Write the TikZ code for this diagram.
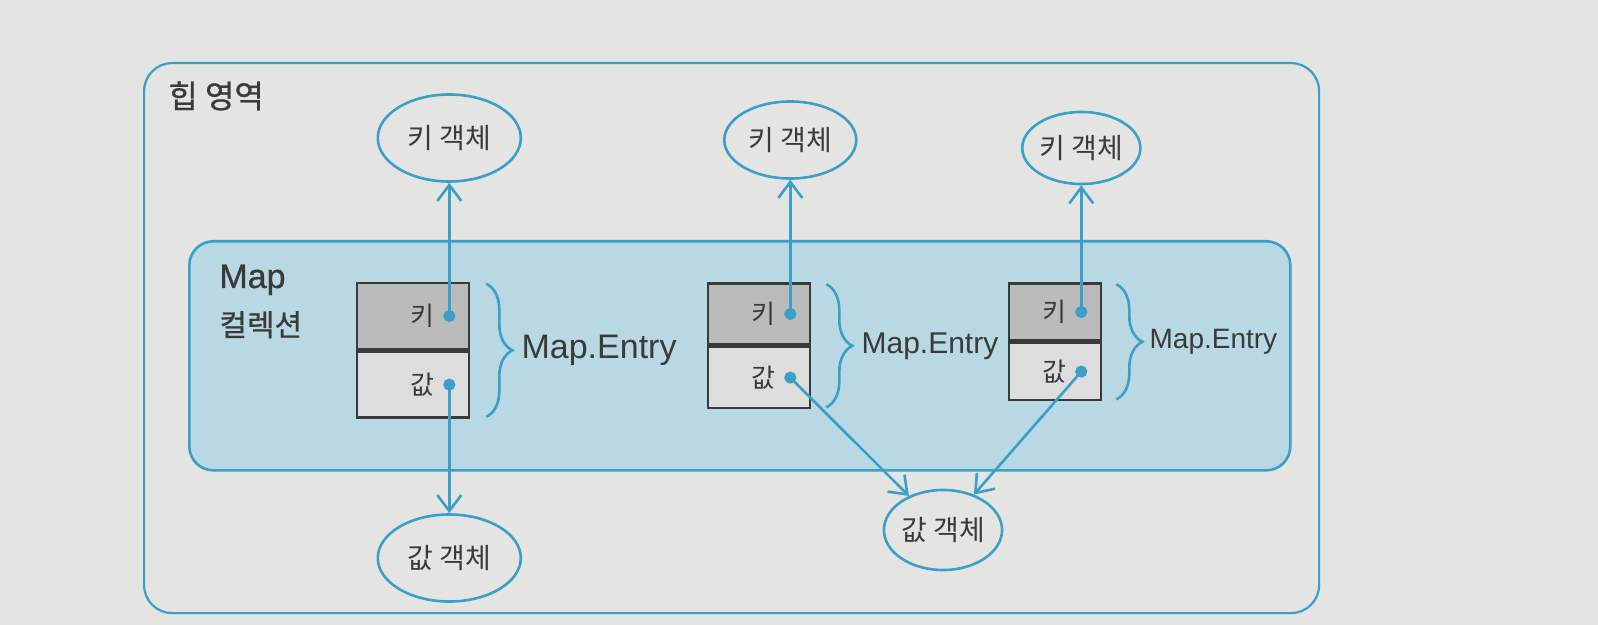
\documentclass[tikz,border=0pt]{standalone}
\usepackage{fontspec}
\setmainfont{Liberation Sans}
\newfontfamily\krfont{Noto Sans CJK KR}
\newfontfamily\krlabel[FakeBold=0.8]{Noto Sans CJK KR}
\newfontfamily\enlabel[FakeBold=0.8]{Liberation Sans}
\usetikzlibrary{arrows.meta,positioning,shapes.geometric,decorations.pathreplacing,calc}

\definecolor{pagegray}{HTML}{E4E4E2}
\definecolor{mapblue}{HTML}{3AA0C8}
\definecolor{mapfill}{HTML}{B8D8E3}
\definecolor{keygray}{HTML}{BBBBBB}
\definecolor{valgray}{HTML}{DDDDDD}
\definecolor{inkgray}{HTML}{3A3A3A}

\begin{document}
\begin{tikzpicture}[
  x=0.5pt, y=-0.5pt,
  heapbox/.style={draw=mapblue, line width=1.1pt, rounded corners=14pt, inner sep=0pt},
  mapbox/.style={draw=mapblue, fill=mapfill, line width=1.3pt, rounded corners=12pt, inner sep=0pt},
  obj/.style={ellipse, draw=mapblue, line width=1.3pt, inner sep=0pt, text=inkgray, font=\krfont\fontsize{14}{16}\selectfont},
  keycell/.style={draw=inkgray, fill=keygray, line width=1.3pt, inner sep=0pt},
  valcell/.style={keycell, fill=valgray},
  celltext/.style={text=inkgray, inner sep=0pt, font=\krfont\fontsize{13}{15}\selectfont},
  areatext/.style={text=inkgray, inner sep=0pt, font=\enlabel\fontsize{17}{20}\selectfont},
  brace/.style={decorate, decoration={brace, amplitude=13pt}, draw=mapblue, line width=1.3pt},
  entrytext/.style={text=inkgray, inner sep=0pt, font=\fontsize{17}{20}\selectfont},
  link/.style={draw=mapblue, line width=1.3pt, shorten <=-3pt, {Circle[length=6pt]}-{Straight Barb[length=8pt, width=12pt]}},
  e1/.style={minimum width=56pt, minimum height=33pt},
  e2/.style={minimum width=51pt, minimum height=30.5pt},
  e3/.style={minimum width=46pt, minimum height=28.5pt}
]
\fill[pagegray] (0,0) rectangle (1598,625);
\useasboundingbox (0,0) rectangle (1598,625);

% heap area and map collection
\node[heapbox, minimum width=587.5pt, minimum height=275pt, anchor=north west] (heap) at (143,62) {};
\node[areatext, anchor=base west, font=\krlabel\fontsize{16}{19}\selectfont] (heaplbl) at (168,108) {힙 영역};
\node[mapbox, minimum width=550.5pt, minimum height=114.5pt, anchor=north west] (map) at (188,240) {};
\node[areatext, anchor=base west] (mapname) at (219,288) {Map};
\node[areatext, anchor=base west, font=\krlabel\fontsize{15}{18}\selectfont] (mapkr) at (219,336) {컬렉션};

% entry 1
\node[keycell, e1] (k1) at (413,316) {};
\node[valcell, e1, below=0pt of k1] (v1) {};
\coordinate (kd1) at ($(k1.east)+(-21,0)$);
\coordinate (vd1) at ($(v1.east)+(-21,0)$);
\node[celltext, left=7pt of kd1] (kt1) {키};
\node[celltext, left=7pt of vd1] (vt1) {값};
\draw[brace] ($(k1.north east)+(16,2)$) -- node[entrytext, right=17pt] (me1) {Map.Entry} ($(v1.south east)+(16,-2)$);

% entry 2
\node[keycell, e2] (k2) at (759,314) {};
\node[valcell, e2, below=0pt of k2] (v2) {};
\coordinate (kd2) at ($(k2.east)+(-21,0)$);
\coordinate (vd2) at ($(v2.east)+(-21,0)$);
\node[celltext, left=7pt of kd2] (kt2) {키};
\node[celltext, left=7pt of vd2] (vt2) {값};
\draw[brace] ($(k2.north east)+(15,2)$) -- node[entrytext, right=17pt, font=\fontsize{15}{18}\selectfont] (me2) {Map.Entry} ($(v2.south east)+(15,-2)$);

% entry 3
\node[keycell, e3] (k3) at (1055,312) {};
\node[valcell, e3, below=0pt of k3] (v3) {};
\coordinate (kd3) at ($(k3.east)+(-21,0)$);
\coordinate (vd3) at ($(v3.east)+(-21,0)$);
\node[celltext, left=7pt of kd3] (kt3) {키};
\node[celltext, left=7pt of vd3] (vt3) {값};
\draw[brace] ($(k3.north east)+(14,2)$) -- node[entrytext, right=16pt, font=\fontsize{14}{17}\selectfont] (me3) {Map.Entry} ($(v3.south east)+(14,-2)$);

% key and value objects
\node[obj, minimum width=71.5pt, minimum height=43.5pt] (ko1) at (kd1 |- 0,138) {키 객체};
\node[obj, minimum width=66pt, minimum height=38.5pt] (ko2) at (kd2 |- 0,140) {키 객체};
\node[obj, minimum width=58.5pt, minimum height=36pt] (ko3) at (kd3 |- 0,148) {키 객체};
\node[obj, minimum width=71.5pt, minimum height=43.5pt] (vo1) at (vd1 |- 0,558) {값 객체};
\node[obj, minimum width=57.5pt, minimum height=40pt] (vo2) at (943,530) {값 객체};

\draw[link] (kd1) -- (ko1);
\draw[link] (kd2) -- (ko2);
\draw[link] (kd3) -- (ko3);
\draw[link] (vd1) -- (vo1);
\draw[link] (vd2) -- (vo2);
\draw[link] (vd3) -- (vo2);

\end{tikzpicture}
\end{document}
